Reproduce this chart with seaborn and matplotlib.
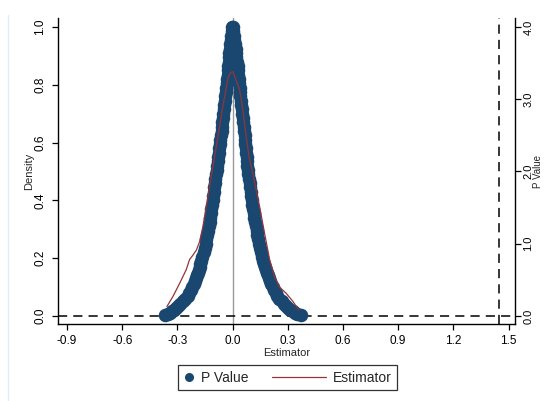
import matplotlib
matplotlib.use("Agg")
import matplotlib.pyplot as plt
import seaborn as sns
import pandas as pd
from matplotlib.lines import Line2D
from matplotlib.legend_handler import HandlerBase

# p-value of each permuted estimate
pval_arm = [1.000, 0.985, 0.970, 0.955, 0.940, 0.925, 0.910, 0.895, 0.880, 0.865,
            0.850, 0.835, 0.820, 0.805, 0.790, 0.775, 0.760, 0.745, 0.730, 0.715,
            0.700, 0.685, 0.670, 0.655, 0.640, 0.625, 0.610, 0.595, 0.580, 0.565,
            0.550, 0.535, 0.520, 0.505, 0.490, 0.475, 0.460, 0.445, 0.430, 0.415,
            0.400, 0.385, 0.370, 0.355, 0.340, 0.325, 0.310, 0.295, 0.280, 0.265,
            0.250, 0.235, 0.220, 0.205, 0.190, 0.180, 0.170, 0.160, 0.150, 0.140,
            0.130, 0.120, 0.110, 0.100, 0.090, 0.080, 0.070, 0.060, 0.050, 0.042,
            0.035, 0.028, 0.022, 0.016, 0.011, 0.007, 0.004]
est_left = [-0.003, -0.005, -0.008, -0.010, -0.012, -0.015, -0.017, -0.019, -0.021, -0.023,
            -0.025, -0.027, -0.030, -0.033, -0.036, -0.038, -0.041, -0.043, -0.046, -0.048,
            -0.050, -0.053, -0.055, -0.058, -0.060, -0.063, -0.066, -0.069, -0.072, -0.075,
            -0.078, -0.080, -0.083, -0.087, -0.090, -0.093, -0.096, -0.100, -0.103, -0.106,
            -0.109, -0.112, -0.115, -0.118, -0.121, -0.125, -0.129, -0.133, -0.138, -0.142,
            -0.147, -0.152, -0.158, -0.164, -0.170, -0.175, -0.179, -0.184, -0.188, -0.193,
            -0.199, -0.205, -0.211, -0.218, -0.226, -0.235, -0.245, -0.257, -0.272, -0.285,
            -0.295, -0.306, -0.318, -0.330, -0.342, -0.353, -0.365]
est_right = [0.001, 0.004, 0.007, 0.010, 0.013, 0.016, 0.019, 0.021, 0.024, 0.027,
             0.029, 0.031, 0.033, 0.035, 0.038, 0.040, 0.042, 0.044, 0.047, 0.049,
             0.052, 0.055, 0.057, 0.060, 0.062, 0.065, 0.068, 0.070, 0.073, 0.075,
             0.077, 0.079, 0.081, 0.083, 0.086, 0.089, 0.092, 0.095, 0.098, 0.101,
             0.104, 0.108, 0.111, 0.114, 0.118, 0.122, 0.126, 0.130, 0.134, 0.139,
             0.144, 0.149, 0.155, 0.160, 0.165, 0.170, 0.175, 0.180, 0.185, 0.191,
             0.197, 0.203, 0.210, 0.218, 0.226, 0.234, 0.243, 0.254, 0.267, 0.279,
             0.290, 0.302, 0.314, 0.327, 0.340, 0.352, 0.372]

# kernel density of the estimator (right axis scale)
dens_x = [-0.357, -0.324, -0.288, -0.252, -0.234, -0.216, -0.197, -0.179, -0.161, -0.143,
          -0.125, -0.107, -0.089, -0.071, -0.053, -0.034, -0.025, -0.013, -0.002,
          0.002, 0.038, 0.056, 0.074, 0.092, 0.102, 0.120, 0.147, 0.174, 0.201,
          0.228, 0.255, 0.292, 0.328, 0.360]
dens_y = [0.13, 0.27, 0.45, 0.64, 0.78, 0.84, 0.91, 1.03, 1.24, 1.51,
          1.79, 2.07, 2.34, 2.62, 2.90, 3.17, 3.29, 3.36, 3.38,
          3.38, 3.13, 2.85, 2.48, 2.16, 2.07, 1.84, 1.51, 1.14, 0.78,
          0.54, 0.40, 0.31, 0.20, 0.08]

x_ticks = [-0.9, -0.6, -0.3, 0.0, 0.3, 0.6, 0.9, 1.2, 1.5]
left_ticks = [0.0, 0.2, 0.4, 0.6, 0.8, 1.0]
right_ticks = [0.0, 1.0, 2.0, 3.0, 4.0]
observed = 1.45

blue = "#1a476f"
red = "#90353b"

sns.set_theme(style="white")
plt.rcParams["font.family"] = ["Liberation Sans", "DejaVu Sans"]

pv = pd.DataFrame({"Estimator": est_left + est_right, "P Value": pval_arm + pval_arm})
kd = pd.DataFrame({"Estimator": dens_x, "Density": dens_y})

fig = plt.figure(figsize=(5.45, 4.01), dpi=100)
ax = fig.add_axes([58 / 545, 1 - 324 / 401, (515 - 58) / 545, (324 - 18) / 401])

ax.axvline(0, color="#999999", lw=1.0, zorder=1)
ax.axhline(0, color="black", lw=1.1, ls=(0, (6, 4)), zorder=1)
ax.axvline(observed, color="black", lw=1.1, ls=(0, (6, 4)), zorder=1)
sns.scatterplot(data=pv, x="Estimator", y="P Value", ax=ax, color=blue, s=95,
                linewidth=0, zorder=3, legend=False)

ax2 = ax.twinx()
sns.lineplot(data=kd, x="Estimator", y="Density", ax=ax2, color=red, lw=0.9,
             estimator=None, sort=False)

ax.set_xlim(-0.949, 1.535)
ax.set_ylim(-0.028, 1.031)
ax2.set_ylim(-0.112, 4.124)
ax.set_xticks(x_ticks)
ax.set_xticklabels([f"{t:.1f}" for t in x_ticks])
ax.set_yticks(left_ticks)
ax.set_yticklabels([f"{t:.1f}" for t in left_ticks])
ax2.set_yticks(right_ticks)
ax2.set_yticklabels([f"{t:.1f}" for t in right_ticks])

for a in (ax, ax2):
    for s in a.spines.values():
        s.set_color("black")
        s.set_linewidth(1.0)
    a.spines["top"].set_visible(False)
ax.spines["right"].set_visible(False)
ax2.spines["left"].set_visible(False)
ax2.spines["bottom"].set_visible(False)

ax.tick_params(axis="x", direction="out", length=4.5, width=0.9, pad=3.5,
               labelsize=8.5, colors="black", bottom=True)
ax.tick_params(axis="y", direction="out", length=4.5, width=0.9, pad=4,
               labelsize=8.5, colors="black", left=True, labelrotation=90)
ax2.tick_params(axis="y", direction="out", length=4, width=0.9, pad=2,
                labelsize=8, colors="black", right=True, labelrotation=90)
for t in ax.get_yticklabels() + ax2.get_yticklabels():
    t.set_verticalalignment("center")

ax.set_xlabel("Estimator", fontsize=8, labelpad=1)
ax.set_ylabel("Density", fontsize=8, labelpad=0)
ax2.set_ylabel("P Value", fontsize=7, rotation=90, labelpad=0)
ax.grid(False)
ax2.grid(False)


class WideLine(HandlerBase):
    def create_artists(self, legend, orig_handle, xdescent, ydescent, width, height,
                       fontsize, trans):
        y = height / 2 - ydescent
        ln = Line2D([-xdescent - 3.1 * fontsize, width - xdescent], [y, y],
                    color=orig_handle.get_color(), lw=orig_handle.get_linewidth())
        ln.set_transform(trans)
        return [ln]


dot = Line2D([], [], marker="o", ls="", color=blue, markersize=5.5)
line = Line2D([], [], color=red, lw=0.9)
leg = fig.legend([dot, line], ["P Value", "Estimator"], loc="center",
                 bbox_to_anchor=(287.5 / 545, 1 - 377.5 / 401), ncol=2, fontsize=10,
                 frameon=True, fancybox=False, edgecolor="black", handlelength=0.8,
                 handletextpad=0.45, columnspacing=4.8, borderpad=0.4,
                 handler_map={line: WideLine()})
leg.get_frame().set_linewidth(0.9)

fig.add_artist(Line2D([8 / 545, 8 / 545], [0, 1 - 15 / 401], color="#e4ecf0", lw=1.0,
                      transform=fig.transFigure))

fig.savefig("out.png", dpi=100)
